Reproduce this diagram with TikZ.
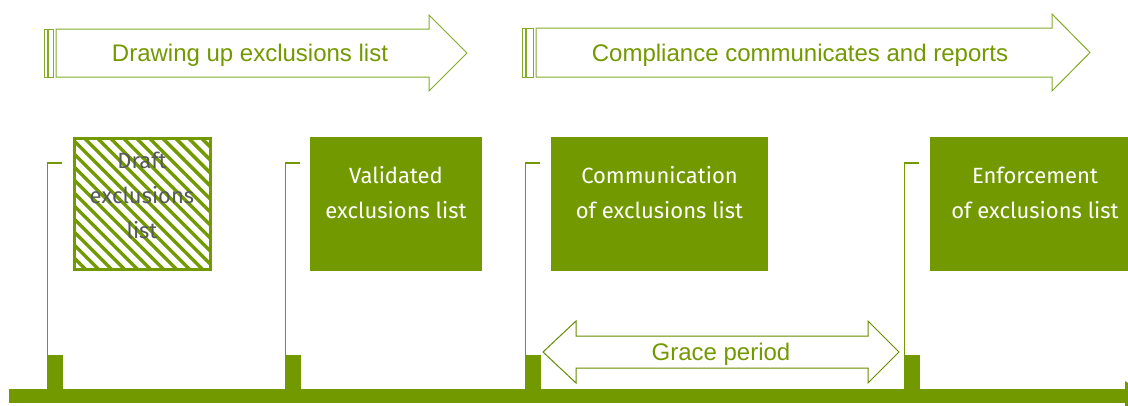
\documentclass[tikz,border=0pt]{standalone}
\usepackage{fontspec}
\setmainfont{Liberation Sans}
\newfontfamily\stagefont{Fira Sans}
\usetikzlibrary{calc}
\usetikzlibrary{patterns.meta}

\definecolor{leaf}{RGB}{115,153,0}
\definecolor{leafline}{RGB}{132,170,40}
\definecolor{draftgray}{RGB}{85,88,95}

\tikzset{
  phase/.style={draw=leafline, line width=1pt, fill=white},
  phasetext/.style={text=leaf, inner sep=0pt, anchor=base, font=\fontsize{24}{28}\selectfont},
  stagetext/.style={text=white, align=center, inner sep=0pt, font=\stagefont\fontsize{22}{35}\selectfont},
  bracket/.style={leaf, line width=1.3pt},
}

\begin{document}
\begin{tikzpicture}[x=1pt, y=-1pt]
\useasboundingbox (0,0) rectangle (1128,405);
\clip (0,0) rectangle (1128,405);

% time line with milestones
\foreach \x/\top in {47/62, 285/300, 525/540, 904/919}{
  \draw[bracket] (\top,163) -| (\x+0.6,356);
  \fill[leaf] (\x,355) rectangle ++(16,35);
}
\fill[leaf] (9,389) rectangle (1125,403);
\fill[leaf] (1125,381) -- (1150,396) -- (1125,411) -- cycle;

% stages
\filldraw[draw=leaf, line width=3pt, pattern={Lines[angle=-45, distance=9.2pt, line width=3.4pt]}, pattern color=leaf]
  (74,138) rectangle (210,269);
\node[stagetext, text=draftgray] (draft) at (142,195) {Draft\\exclusions\\list};

\fill[leaf] (310,137) rectangle (482,271);
\node[stagetext] (valid) at (396,193) {Validated\\exclusions list};

\fill[leaf] (551,137) rectangle (768,271);
\node[stagetext] (comm) at (659.5,193) {Communication\\of exclusions list};

\fill[leaf] (930,137) rectangle (1140,271);
\node[stagetext] (enforce) at (1035,193) {Enforcement\\of exclusions list};

% phases
\draw[phase] (44,29) rectangle (47,77);
\draw[phase] (48.5,29) rectangle (53.5,77);
\draw[phase] (56,29) -- (429,29) -- (429,15) -- (467,53) -- (429,91) -- (429,77) -- (56,77) -- cycle;
\node[phasetext] (drawing) at (250,61.5) {Drawing up exclusions list};

\draw[phase] (522,28) rectangle (525,77);
\draw[phase] (526.5,28) rectangle (533,77);
\draw[phase] (536,28) -- (1052,28) -- (1052,14) -- (1090,52.5) -- (1052,91) -- (1052,77) -- (536,77) -- cycle;
\node[phasetext] (comply) at (800,61) {Compliance communicates and reports};

\draw[phase, draw=leaf!90!black] (543,352) -- (576,321) -- (576,336) -- (868,336) -- (868,321) -- (899,352)
  -- (868,383) -- (868,368) -- (576,368) -- (576,383) -- cycle;
\node[phasetext] (grace) at (721,360) {Grace period};

\end{tikzpicture}
\end{document}
